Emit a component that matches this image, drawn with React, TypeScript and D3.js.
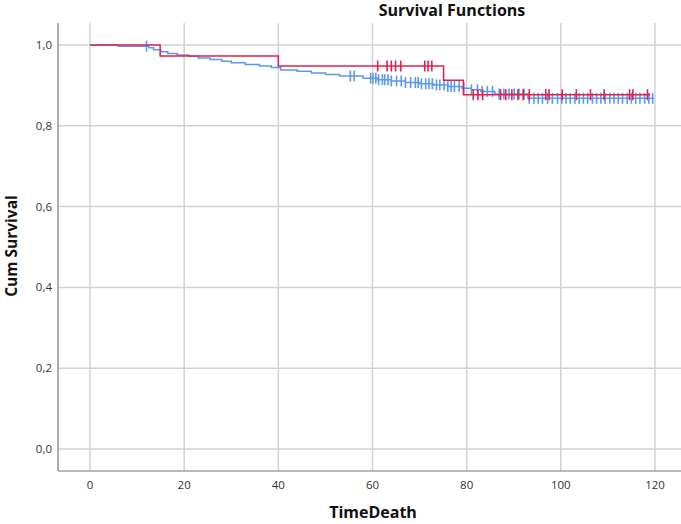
import React from "react";
import * as d3 from "d3";

const xTicks = [0, 20, 40, 60, 80, 100, 120];
const yTicks = [0, 0.2, 0.4, 0.6, 0.8, 1.0];

// Group 1 (blue) step function: event times and survival after each step
const blueTimes = [0, 6, 12.5, 13.5, 15, 16.5, 18.5, 21, 23, 25.5, 28, 30, 33, 36, 38.5, 40.5, 44, 47, 50, 53, 58, 61, 64, 67, 70, 73, 76, 79, 81, 83, 86, 93];
const blueSurv = [1.0, 0.997, 0.993, 0.988, 0.983, 0.979, 0.975, 0.972, 0.968, 0.964, 0.96, 0.956, 0.952, 0.948, 0.944, 0.938, 0.935, 0.931, 0.927, 0.923, 0.918, 0.914, 0.911, 0.907, 0.904, 0.901, 0.897, 0.893, 0.889, 0.885, 0.879, 0.868];
const blueEnd = 119.8;
const blueCensored = [12, 55.3, 56.1, 59.6, 60.1, 60.7, 61.3, 62.1, 62.6, 63.3, 64.0, 65.1, 66.1, 67.0, 68.1, 69.1, 69.7, 70.4, 71.3, 72.0, 72.7, 73.6, 74.3, 75.2, 76.0, 76.7, 77.4, 78.4, 79.4, 81.0, 82.3, 83.3, 84.4, 85.5, 86.9, 87.9, 89.0, 90.1, 91.1, 92.2, 93.3, 94.3, 95.2, 96.1, 97.2, 98.2, 99.3, 100.2, 101.1, 102.0, 103.0, 103.9, 104.8, 105.7, 106.7, 107.6, 108.5, 109.4, 110.4, 111.3, 112.2, 113.1, 114.1, 115.0, 115.9, 116.8, 117.8, 118.7, 119.5];

// Group 2 (red)
const redTimes = [0, 14.9, 40, 75.1, 79.3];
const redSurv = [1.0, 0.973, 0.948, 0.913, 0.877];
const redEnd = 119;
const redCensored = [61.1, 63.1, 64.0, 64.9, 66.0, 71.1, 71.8, 72.6, 81.4, 82.4, 83.4, 87.2, 88.3, 89.6, 90.9, 92.0, 93.3, 96.8, 97.5, 100.3, 103.3, 106.3, 109.2, 114.6, 115.3, 118.4];

const W = 681;
const H = 524;
const FONT = "'Open Sans', sans-serif";

const x = d3.scaleLinear().domain([0, 120]).range([90, 655]);
const y = d3.scaleLinear().domain([0, 1]).range([449, 45]);

const plotLeft = 58;
const plotRight = 681;
const plotTop = 23;
const plotBottom = 471;

function survAt(times: number[], surv: number[], t: number) {
  let v = surv[0];
  for (let i = 0; i < times.length; i++) if (times[i] <= t) v = surv[i];
  return v;
}

const stepLine = d3
  .line<[number, number]>()
  .x((d) => x(d[0]))
  .y((d) => y(d[1]))
  .curve(d3.curveStepAfter);

function Curve({ times, surv, end, censored, color, width }: any) {
  const pts: [number, number][] = times.map((t: number, i: number) => [t, surv[i]]);
  pts.push([end, surv[surv.length - 1]]);
  return (
    <g>
      <path d={stepLine(pts) || ""} fill="none" stroke={color} strokeWidth={width} />
      {censored.map((t: number, i: number) => {
        const cx = x(t);
        const cy = y(survAt(times, surv, t));
        return (
          <line key={i} x1={cx} x2={cx} y1={cy - 5.5} y2={cy + 5.5} stroke={color} strokeWidth={1.6} />
        );
      })}
    </g>
  );
}

export default function App() {
  return (
    <svg
      width={W}
      height={H}
      style={{ position: "absolute", left: 0, top: 0, background: "#fff" }}
      fontFamily={FONT}
    >
      {/* grid */}
      {xTicks.map((t) => (
        <line key={"gx" + t} x1={x(t)} x2={x(t)} y1={plotTop} y2={plotBottom} stroke="#d2d2d2" strokeWidth={1.5} />
      ))}
      {yTicks.map((t) => (
        <line key={"gy" + t} x1={plotLeft} x2={plotRight} y1={y(t)} y2={y(t)} stroke="#d2d2d2" strokeWidth={1.5} />
      ))}
      {/* axes */}
      <line x1={plotLeft} x2={plotLeft} y1={plotTop} y2={plotBottom} stroke="#777" strokeWidth={1.2} />
      <line x1={plotLeft} x2={plotRight} y1={plotBottom} y2={plotBottom} stroke="#777" strokeWidth={1.2} />
      {/* tick labels */}
      {yTicks.map((t) => (
        <text key={"ly" + t} x={52} y={y(t)} dy="0.35em" textAnchor="end" fontSize={11.5} fill="#333">
          {d3.format(".1f")(t).replace(".", ",")}
        </text>
      ))}
      {xTicks.map((t) => (
        <text key={"lx" + t} x={x(t)} y={489} textAnchor="middle" fontSize={11.5} fill="#333">
          {t}
        </text>
      ))}
      {/* curves */}
      <Curve times={blueTimes} surv={blueSurv} end={blueEnd} censored={blueCensored} color="#5b9ae8" width={1.5} />
      <Curve times={redTimes} surv={redSurv} end={redEnd} censored={redCensored} color="#e3204e" width={1.5} />
      {/* titles */}
      <text x={452} y={16} textAnchor="middle" fontSize={16} fontWeight="bold" fill="#111">
        Survival Functions
      </text>
      <text x={373} y={518} textAnchor="middle" fontSize={16} fontWeight="bold" fill="#111">
        TimeDeath
      </text>
      <text
        transform={`translate(17,246) rotate(-90)`}
        textAnchor="middle"
        fontSize={15.5}
        fontWeight="bold"
        fill="#111"
      >
        Cum Survival
      </text>
    </svg>
  );
}
